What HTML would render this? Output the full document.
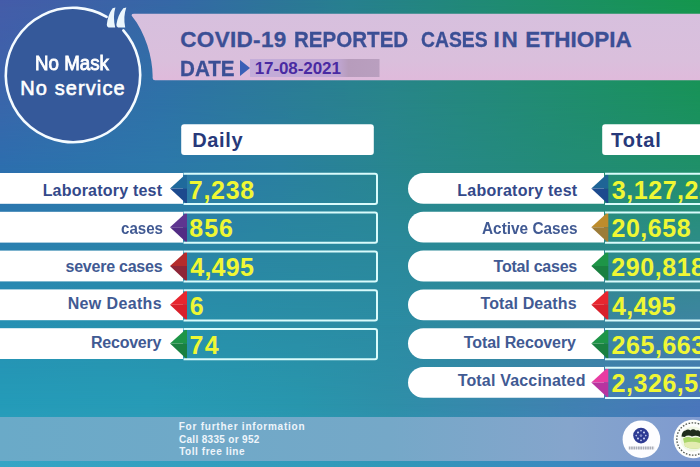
<!DOCTYPE html>
<html>
<head>
<meta charset="utf-8">
<title>COVID-19 Reported Cases in Ethiopia</title>
<style>
html,body{margin:0;padding:0;}
body{width:700px;height:467px;overflow:hidden;position:relative;background:#2a899b;font-family:"Liberation Sans",sans-serif;}
#stage{position:absolute;left:0;top:0;width:700px;height:467px;overflow:hidden;}
.bg{position:absolute;left:0;top:0;width:700px;height:467px;}
.bg0{background:linear-gradient(to right,#455ca9 0px,#3568a6 175px,#27808f 350px,#1e8d6e 520px,#15974d 700px);}
.bg1{background:linear-gradient(to right,#3a66ab 0px,#2e72a8 160px,#28858a 390px,#218c72 550px,#19925a 700px);
 -webkit-mask-image:linear-gradient(to bottom,transparent 0px,#000 100px);mask-image:linear-gradient(to bottom,transparent 0px,#000 100px);}
.bg2{background:linear-gradient(to right,#2d6eae 0px,#2c78aa 162px,#2a7fa0 280px,#28868f 390px,#238b78 550px,#1f9068 700px);
 -webkit-mask-image:linear-gradient(to bottom,transparent 100px,#000 165px);mask-image:linear-gradient(to bottom,transparent 100px,#000 165px);}
.bg3{background:linear-gradient(to right,#2a80b0 0px,#2a899b 390px,#2a8a8c 550px,#2e8c88 700px);
 -webkit-mask-image:linear-gradient(to bottom,transparent 165px,#000 246px);mask-image:linear-gradient(to bottom,transparent 165px,#000 246px);}
.bg4{background:linear-gradient(to right,#2690b3 0px,#2791ae 100px,#2a8ea6 300px,#2b8ca3 390px,#35869c 550px,#3f84a2 700px);
 -webkit-mask-image:linear-gradient(to bottom,transparent 246px,#000 325px);mask-image:linear-gradient(to bottom,transparent 246px,#000 325px);}
.bg5{background:linear-gradient(to right,#249bb8 0px,#279bb6 150px,#2896ad 300px,#2e8fa8 390px,#3f83b0 550px,#4a76bb 700px);
 -webkit-mask-image:linear-gradient(to bottom,transparent 325px,#000 404px);mask-image:linear-gradient(to bottom,transparent 325px,#000 404px);}
.bg6{background:linear-gradient(to right,#35a5c5 0px,#2f98b8 390px,#3a88c0 570px,#4a78c0 700px);
 -webkit-mask-image:linear-gradient(to bottom,transparent 404px,#000 464px);mask-image:linear-gradient(to bottom,transparent 404px,#000 464px);}
.band{position:absolute;left:0;top:416.8px;width:700px;height:44.3px;
 background:linear-gradient(to right,#6aaac8 0px,#75a8c8 390px,#85a5cc 570px,#7f9ad0 700px);}
svg{position:absolute;left:0;top:0;}
.t{position:absolute;white-space:nowrap;line-height:1;transform-origin:0 50%;}
.nm{-webkit-text-stroke:0.6px #fff;}
.nm2{-webkit-text-stroke:0.85px #fff;}
.tt{-webkit-text-stroke:0.3px #3b4f95;}
</style>
</head>
<body>
<div id="stage">
<div class="bg bg0"></div>
<div class="bg bg1"></div>
<div class="bg bg2"></div>
<div class="bg bg3"></div>
<div class="bg bg4"></div>
<div class="bg bg5"></div>
<div class="bg bg6"></div>
<div class="band"></div>

<svg width="700" height="467" viewBox="0 0 700 467">
  <!-- pink banner -->
  <path d="M134 13.700 L700 13.700 L700 80.200 L155 80.200 Q152.700 80.200 152.600 78 C153.200 60 146 33 131.900 16 Q130.800 13.700 134 13.700 Z" fill="url(#bn)"/>
  <defs><linearGradient id="bn" x1="0" x2="0" y1="0" y2="1"><stop offset="0" stop-color="#d7c0de"/><stop offset="0.700" stop-color="#dabfdc"/><stop offset="1" stop-color="#dfbadb"/></linearGradient><linearGradient id="dg" x1="0" x2="1" y1="0" y2="0"><stop offset="0" stop-color="#c4add9"/><stop offset="0.680" stop-color="#c0a6d2"/><stop offset="0.760" stop-color="#b79cbc"/><stop offset="1" stop-color="#b99fbf"/></linearGradient></defs>
  <rect x="250" y="59" width="129.500" height="18" fill="url(#dg)"/>
  <path d="M240 60 L250 68 L240 76 Z" fill="#3a5fb6"/>
  <!-- circle -->
  <circle cx="73" cy="75" r="67.2" fill="#35599a"/>
  <path d="M123.33 30.47 A67.2 67.2 0 1 1 106.60 16.80" fill="none" stroke="#f4fbff" stroke-width="2.600" stroke-linecap="round"/>
  <!-- quote marks -->
  <path d="M112.600 8.200 L115.400 7.600 Q112.600 17 115.200 27.400 L108.500 27.400 Q106.500 26.500 106.800 24.500 Q107.800 15 112.600 8.200 Z" fill="#eaf6fc"/>
  <path d="M123.300 8.200 L126.300 7.600 Q123 17 125.200 27.400 L118 27.400 Q116.100 26.500 116.400 24.500 Q117.800 15 123.300 8.200 Z" fill="#eaf6fc"/>

  <!-- header boxes -->
  <rect x="181.200" y="124.300" width="192.600" height="30.600" rx="3" fill="#fff"/>
  <rect x="602.200" y="124.300" width="110" height="30.600" rx="3" fill="#fff"/>

  <rect x="-5" y="173" width="188" height="30.8" fill="#fff"/>
  <path d="M170 188.4 L187 173 L187 188.4 Z" fill="#1f6a9c"/><path d="M170 188.4 L187 188.4 L187 204.3 Z" fill="#1d4a8e"/>
  <path d="M183.5 173.8 H375 Q377 173.8 377 175.8 V202 Q377 204 375 204 H183.500" fill="none" stroke="#d9fbfb" stroke-width="2"/>
  <rect x="-5" y="211.8" width="188" height="30.8" fill="#fff"/>
  <path d="M170 227.2 L187 211.8 L187 227.2 Z" fill="#5e3590"/><path d="M170 227.2 L187 227.2 L187 243.1 Z" fill="#522c84"/>
  <path d="M183.5 212.6 H375 Q377 212.6 377 214.6 V240.8 Q377 242.8 375 242.8 H183.500" fill="none" stroke="#d9fbfb" stroke-width="2"/>
  <rect x="-5" y="250.6" width="188" height="30.8" fill="#fff"/>
  <path d="M170 266 L187 250.6 L187 266 Z" fill="#b52c2c"/><path d="M170 266 L187 266 L187 281.9 Z" fill="#8e2638"/>
  <path d="M183.5 251.4 H375 Q377 251.4 377 253.4 V279.6 Q377 281.6 375 281.6 H183.500" fill="none" stroke="#d9fbfb" stroke-width="2"/>
  <rect x="-5" y="289.4" width="188" height="30.8" fill="#fff"/>
  <path d="M170 304.8 L187 289.4 L187 304.8 Z" fill="#e8262f"/><path d="M170 304.8 L187 304.8 L187 320.7 Z" fill="#d9202b"/>
  <path d="M183.5 290.2 H375 Q377 290.2 377 292.2 V318.4 Q377 320.4 375 320.4 H183.500" fill="none" stroke="#d9fbfb" stroke-width="2"/>
  <rect x="-5" y="328.2" width="188" height="30.8" fill="#fff"/>
  <path d="M170 343.6 L187 328.2 L187 343.6 Z" fill="#1e9547"/><path d="M170 343.6 L187 343.6 L187 359.5 Z" fill="#1a8040"/>
  <path d="M183.5 329 H375 Q377 329 377 331 V357.2 Q377 359.2 375 359.2 H183.500" fill="none" stroke="#d9fbfb" stroke-width="2"/>
  <path d="M423.4 173 L604 173 L604 203.8 L423.4 203.8 A15.4 15.4 0 0 1 423.4 173 Z" fill="#fff"/>
  <path d="M591.3 188.4 L608.3 173 L608.3 188.4 Z" fill="#1e6496"/><path d="M591.3 188.4 L608.3 188.4 L608.3 204.3 Z" fill="#1d4a8e"/>
  <path d="M605 173.8 H720 M605 204 H720" fill="none" stroke="#d9fbfb" stroke-width="2"/>
  <path d="M423.4 211.8 L604 211.8 L604 242.6 L423.4 242.6 A15.4 15.4 0 0 1 423.4 211.8 Z" fill="#fff"/>
  <path d="M591.3 227.2 L608.3 211.8 L608.3 227.2 Z" fill="#bd8c2c"/><path d="M591.3 227.2 L608.3 227.2 L608.3 243.1 Z" fill="#9c7c38"/>
  <path d="M605 212.6 H720 M605 242.8 H720" fill="none" stroke="#d9fbfb" stroke-width="2"/>
  <path d="M423.4 250.6 L604 250.6 L604 281.4 L423.4 281.4 A15.4 15.4 0 0 1 423.4 250.6 Z" fill="#fff"/>
  <path d="M591.3 266 L608.3 250.6 L608.3 266 Z" fill="#1e9547"/><path d="M591.3 266 L608.3 266 L608.3 281.9 Z" fill="#1a8040"/>
  <path d="M605 251.4 H720 M605 281.6 H720" fill="none" stroke="#d9fbfb" stroke-width="2"/>
  <path d="M423.4 289.4 L604 289.4 L604 320.2 L423.4 320.2 A15.4 15.4 0 0 1 423.4 289.4 Z" fill="#fff"/>
  <path d="M591.3 304.8 L608.3 289.4 L608.3 304.8 Z" fill="#e8262f"/><path d="M591.3 304.8 L608.3 304.8 L608.3 320.7 Z" fill="#d9202b"/>
  <path d="M605 290.2 H720 M605 320.4 H720" fill="none" stroke="#d9fbfb" stroke-width="2"/>
  <path d="M423.4 328.2 L604 328.2 L604 359 L423.4 359 A15.4 15.4 0 0 1 423.4 328.2 Z" fill="#fff"/>
  <path d="M591.3 343.6 L608.3 328.2 L608.3 343.6 Z" fill="#1e9547"/><path d="M591.3 343.6 L608.3 343.6 L608.3 359.5 Z" fill="#1a8040"/>
  <path d="M605 329 H720 M605 359.2 H720" fill="none" stroke="#d9fbfb" stroke-width="2"/>
  <path d="M423.4 367 L604 367 L604 397.8 L423.4 397.8 A15.4 15.4 0 0 1 423.4 367 Z" fill="#fff"/>
  <path d="M591.3 382.4 L608.3 367 L608.3 382.4 Z" fill="#e83ca2"/><path d="M591.3 382.4 L608.3 382.4 L608.3 398.3 Z" fill="#b834a0"/>
  <path d="M605 367.8 H720 M605 398 H720" fill="none" stroke="#d9fbfb" stroke-width="2"/>
  <!-- logos -->
  <circle cx="641.400" cy="439.200" r="18.800" fill="#fdfdff"/>
  <circle cx="641" cy="435.600" r="7.800" fill="#2e3b93"/>
  <g fill="#e4e9ff">
    <circle cx="641" cy="435.600" r="1.200"/>
    <circle cx="638" cy="432.600" r="1"/><circle cx="644" cy="432.600" r="1"/>
    <circle cx="638" cy="438.600" r="1"/><circle cx="644" cy="438.600" r="1"/>
    <circle cx="641" cy="430.800" r="0.800"/><circle cx="641" cy="440.400" r="0.800"/>
    <circle cx="636.300" cy="435.600" r="0.800"/><circle cx="645.700" cy="435.600" r="0.800"/>
  </g>
  <g stroke="#2e3b93" stroke-width="0.500" opacity="0.700"><path d="M638 432.600 L644 438.600 M644 432.600 L638 438.600 M641 430.800 V440.400 M636.300 435.600 H645.700"/></g>
  <path d="M628.800 447.900 H654.200" stroke="#8f93a0" stroke-width="3" stroke-dasharray="1.700 0.600" opacity="0.750" fill="none"/>
  <circle cx="693" cy="439" r="19.300" fill="#fdfefc"/>
  <circle cx="693" cy="439" r="16.200" fill="none" stroke="#555a52" stroke-width="1.300" stroke-dasharray="1.600 1.500"/>
  <circle cx="693" cy="439" r="12.600" fill="#f1f7e6"/>
  <path d="M681.500 436.500 Q682 431 685.500 430.500 Q688 428.500 690.500 430.500 Q693 428 696 430.500 Q698.500 429.500 700 431.500 L700 437 Q696 435 692 436.500 Q688 434.500 684.500 437 Z" fill="#1f2d1c"/>
  <path d="M683 438.500 Q688 436 692 438 Q696 436.500 700 438 L700 448 Q692 450 685 446.500 Z" fill="#a9d66a"/>
  <path d="M684 443 Q692 440.500 700 443 L700 448 Q692 450 685 446.500 Z" fill="#e3ecb0"/>
</svg>

<div class="t nm nm2" style="left:34.90px;top:53.07px;font-size:20px;font-weight:normal;color:#ffffff;letter-spacing:0.000px;transform:scaleX(0.9367)">No Mask</div>
<div class="t nm" style="left:20.30px;top:77.97px;font-size:20px;font-weight:normal;color:#ffffff;letter-spacing:1.094px">No service</div>
<div class="t tt" style="left:180.30px;top:28.65px;font-size:22.5px;font-weight:bold;color:#3b4f95;letter-spacing:0.305px">COVID-19</div>
<div class="t tt" style="left:294.47px;top:28.65px;font-size:22.5px;font-weight:bold;color:#3b4f95;letter-spacing:0.000px;transform:scaleX(0.9135)">REPORTED</div>
<div class="t tt" style="left:420.73px;top:28.65px;font-size:22.5px;font-weight:bold;color:#3b4f95;letter-spacing:0.000px;transform:scaleX(0.8590)">CASES</div>
<div class="t tt" style="left:493.45px;top:28.65px;font-size:22.5px;font-weight:bold;color:#3b4f95;letter-spacing:1.849px">IN</div>
<div class="t tt" style="left:525.35px;top:28.65px;font-size:22.5px;font-weight:bold;color:#3b4f95;letter-spacing:0.027px">ETHIOPIA</div>
<div class="t tt" style="left:179.96px;top:57.52px;font-size:21.6px;font-weight:bold;color:#3b4f95;letter-spacing:0.000px;transform:scaleX(0.9546)">DATE</div>
<div class="t " style="left:254.68px;top:60.21px;font-size:17px;font-weight:bold;color:#4a2aa2;letter-spacing:-0.088px">17-08-2021</div>
<div class="t " style="left:192.30px;top:130.07px;font-size:20px;font-weight:bold;color:#27397a;letter-spacing:0.630px">Daily</div>
<div class="t " style="left:611.10px;top:130.07px;font-size:20px;font-weight:bold;color:#27397a;letter-spacing:0.842px">Total</div>
<div class="t " style="left:42.64px;top:182.66px;font-size:16px;font-weight:bold;color:#33498a;letter-spacing:0.210px">Laboratory test</div>
<div class="t " style="left:120.55px;top:220.86px;font-size:16px;font-weight:bold;color:#415a93;letter-spacing:0.000px;transform:scaleX(0.9440)">cases</div>
<div class="t " style="left:65.52px;top:259.26px;font-size:16px;font-weight:bold;color:#415a93;letter-spacing:-0.236px">severe cases</div>
<div class="t " style="left:67.64px;top:295.96px;font-size:16px;font-weight:bold;color:#415a93;letter-spacing:0.371px">New Deaths</div>
<div class="t " style="left:91.04px;top:334.66px;font-size:16px;font-weight:bold;color:#415a93;letter-spacing:-0.250px">Recovery</div>
<div class="t " style="left:188.80px;top:177.54px;font-size:25px;font-weight:bold;color:#eff734;letter-spacing:0.723px">7,238</div>
<div class="t " style="left:189.35px;top:216.34px;font-size:25px;font-weight:bold;color:#eff734;letter-spacing:0.971px">856</div>
<div class="t " style="left:190.25px;top:255.04px;font-size:25px;font-weight:bold;color:#eff734;letter-spacing:0.261px">4,495</div>
<div class="t " style="left:189.75px;top:293.84px;font-size:25px;font-weight:bold;color:#eff734;letter-spacing:0.000px">6</div>
<div class="t " style="left:189.50px;top:332.64px;font-size:25px;font-weight:bold;color:#eff734;letter-spacing:1.396px">74</div>
<div class="t " style="left:457.34px;top:182.66px;font-size:16px;font-weight:bold;color:#33498a;letter-spacing:0.239px">Laboratory test</div>
<div class="t " style="left:481.99px;top:220.76px;font-size:16px;font-weight:bold;color:#415a93;letter-spacing:0.000px;transform:scaleX(0.9603)">Active Cases</div>
<div class="t " style="left:493.54px;top:259.26px;font-size:16px;font-weight:bold;color:#415a93;letter-spacing:-0.223px">Total cases</div>
<div class="t " style="left:480.54px;top:296.26px;font-size:16px;font-weight:bold;color:#415a93;letter-spacing:0.110px">Total Deaths</div>
<div class="t " style="left:463.84px;top:334.66px;font-size:16px;font-weight:bold;color:#415a93;letter-spacing:-0.110px">Total Recovery</div>
<div class="t " style="left:457.64px;top:373.06px;font-size:16px;font-weight:bold;color:#415a93;letter-spacing:0.184px">Total Vaccinated</div>
<div class="t " style="left:611.80px;top:177.54px;font-size:25px;font-weight:bold;color:#eff734;letter-spacing:0.550px">3,127,283</div>
<div class="t " style="left:611.55px;top:216.34px;font-size:25px;font-weight:bold;color:#eff734;letter-spacing:0.508px">20,658</div>
<div class="t " style="left:611.35px;top:255.04px;font-size:25px;font-weight:bold;color:#eff734;letter-spacing:0.550px">290,818</div>
<div class="t " style="left:612.05px;top:293.84px;font-size:25px;font-weight:bold;color:#eff734;letter-spacing:0.261px">4,495</div>
<div class="t " style="left:611.55px;top:332.64px;font-size:25px;font-weight:bold;color:#eff734;letter-spacing:0.550px">265,663</div>
<div class="t " style="left:611.55px;top:371.44px;font-size:25px;font-weight:bold;color:#eff734;letter-spacing:0.550px">2,326,527</div>
<div class="t " style="left:178.70px;top:422.44px;font-size:10px;font-weight:bold;color:#eef5fb;letter-spacing:0.774px">For further information</div>
<div class="t " style="left:178.90px;top:434.74px;font-size:10px;font-weight:bold;color:#eef5fb;letter-spacing:0.324px">Call 8335 or 952</div>
<div class="t " style="left:179.20px;top:446.84px;font-size:10px;font-weight:bold;color:#eef5fb;letter-spacing:0.554px">Toll free line</div>
</div>
</body>
</html>
